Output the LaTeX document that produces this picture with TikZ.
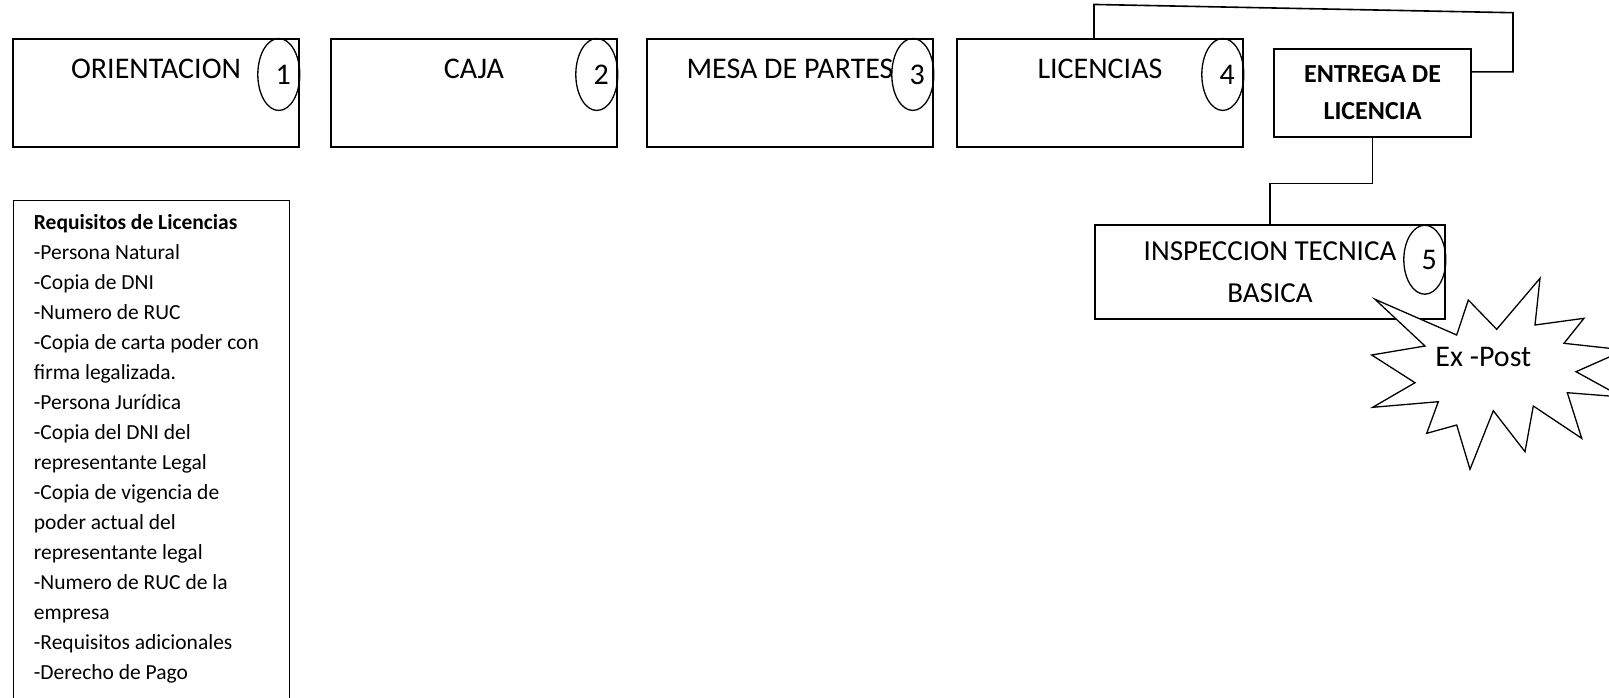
\documentclass[tikz,border=0pt]{standalone}
\usepackage{fontspec}
\setmainfont{Carlito}
\usetikzlibrary{calc, positioning, shapes.geometric}
\tikzset{
  stagebox/.style={draw, line width=1.6pt, minimum width=286pt, minimum height=107.5pt, inner sep=0pt},
  stagetxt/.style={font=\fontsize{30}{36}\selectfont, anchor=base, inner sep=0pt},
  numoval/.style={draw, ellipse, line width=1.3pt, minimum width=42pt, minimum height=72pt, inner sep=0pt, font=\fontsize{30}{36}\selectfont},
  conn/.style={line width=1.6pt},
}

\begin{document}
\begin{tikzpicture}[x=1pt, y=-1pt]
\useasboundingbox (0,0) rectangle (1609,697);
\clip (0,0) rectangle (1609,697);

\node[stagebox] (orient) at (156, 93) {};
\node[stagebox] (caja) at (474, 93) {};
\node[stagebox] (mesa) at (790, 93) {};
\node[stagebox] (lic) at (1100, 93) {};
\node[stagetxt] (orientlbl) at ($(orient.north)+(0,40)$) {ORIENTACION};
\node[stagetxt] (cajalbl) at ($(caja.north)+(0,40)$) {CAJA};
\node[stagetxt] (mesalbl) at ($(mesa.north)+(0,40)$) {MESA DE PARTES};
\node[stagetxt] (liclbl) at ($(lic.north)+(0,40)$) {LICENCIAS};
\node[numoval] (n1) at ($(orient.north east)+(-21,36)$) {\hspace*{9pt}1};
\node[numoval] (n2) at ($(caja.north east)+(-21,36)$) {\hspace*{9pt}2};
\node[numoval] (n3) at ($(mesa.north east)+(-21,36)$) {\hspace*{9pt}3};
\node[numoval] (n4) at ($(lic.north east)+(-21,36)$) {\hspace*{9pt}4};

\node[draw, line width=1.6pt, minimum width=197pt, minimum height=87.7pt, inner sep=0pt, align=center,
  font=\bfseries\fontsize{26}{36.7}\selectfont] (entrega) at (1372.5, 92.9) {ENTREGA DE\\LICENCIA};
\node[draw, line width=1.6pt, minimum width=350pt, minimum height=94pt, inner sep=0pt, align=center,
  font=\fontsize{29}{41.7}\selectfont] (inspec) at (1270, 272) {INSPECCION TECNICA\\BASICA};
\node[numoval, minimum height=69pt] (n5) at ($(inspec.north east)+(-21,35.5)$) {\hspace*{9pt}5};

\coordinate (loopR) at (1513, 12.7);
\draw[conn] ([xshift=-6pt]lic.north) -- ++(0,-34) -- (loopR) |- ($(entrega.east)+(0,-21)$);
\draw[conn] (entrega.south) -- ++(0,46) -| (inspec.north);

% explosion
\draw[line width=1.3pt, fill=white] (1375,299.3) -- (1456.7,335) -- (1468.3,300) -- (1496.7,329.3)
  -- (1540,278.3) -- (1535,325) -- (1584,318.3) -- (1564,343.3) -- (1625,350) -- (1576,371.7)
  -- (1622,397) -- (1567.3,392.7) -- (1581.7,438.3) -- (1533.3,406) -- (1525,451.7) -- (1493.3,410.7)
  -- (1470,469.3) -- (1456.7,425) -- (1426.7,433.3) -- (1438.3,401.7) -- (1372.7,407.3)
  -- (1415,382.7) -- (1371.7,355) -- (1425,346) -- cycle;
\node[stagetxt] (expost) at (1483.3, 366.7) {Ex -Post};

\node[draw, line width=1.6pt, minimum width=276pt, minimum height=530pt, inner sep=0pt, anchor=north west] (req) at (12.7, 199.5) {};
\node[anchor=north west, inner sep=0pt, align=left, font=\fontsize{21.5}{30}\selectfont] (reqtxt) at ($(req.north west)+(21,15)$)
  {\textbf{Requisitos de Licencias}\\-Persona Natural\\-Copia de DNI\\-Numero de RUC\\-Copia de carta poder con\\firma legalizada.\\-Persona Jurídica\\-Copia del DNI del\\representante Legal\\-Copia de vigencia de\\poder actual del\\representante legal\\-Numero de RUC de la\\empresa\\-Requisitos adicionales\\-Derecho de Pago};
\end{tikzpicture}
\end{document}
